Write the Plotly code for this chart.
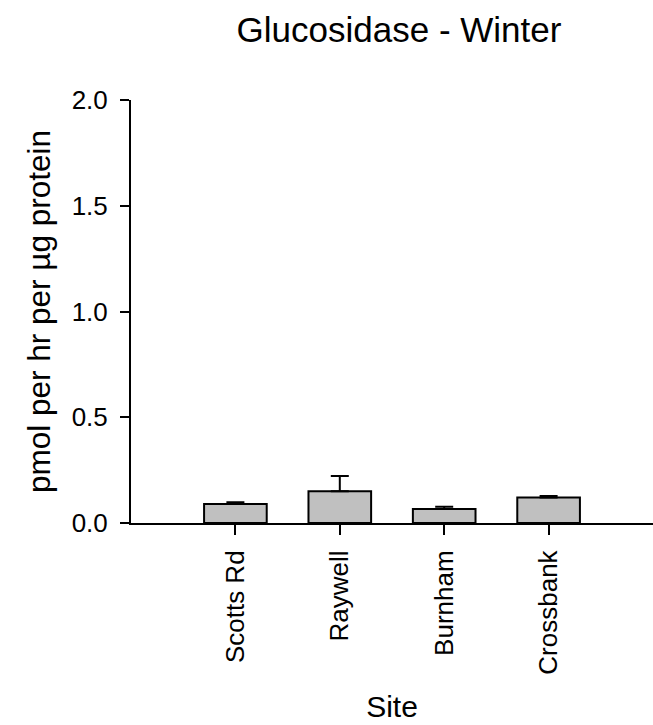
import plotly.graph_objects as go

sites = ["Scotts Rd", "Raywell", "Burnham", "Crossbank"]
means = [0.090, 0.150, 0.066, 0.120]
err_plus = [0.008, 0.072, 0.011, 0.008]
y_ticks = [0.0, 0.5, 1.0, 1.5, 2.0]
y_tick_labels = ["0.0", "0.5", "1.0", "1.5", "2.0"]

FONT = "Liberation Sans, Arial, sans-serif"

fig = go.Figure()
fig.add_trace(go.Bar(
    x=sites,
    y=means,
    width=0.6,
    marker=dict(color="#c0c0c0", line=dict(color="black", width=2)),
    error_y=dict(type="data", array=err_plus, arrayminus=[0] * len(err_plus),
                 symmetric=False, color="black", thickness=2, width=9),
    showlegend=False,
))

fig.update_layout(
    width=653, height=725,
    margin=dict(l=131, r=0, t=100, b=202, autoexpand=False),
    paper_bgcolor="white", plot_bgcolor="white",
    font=dict(family=FONT, color="black"),
    title=dict(text="Glucosidase - Winter", x=399 / 653, xanchor="center",
               y=1 - 30 / 725, yanchor="middle", xref="container", yref="container",
               font=dict(size=35, family=FONT, color="black")),
    xaxis=dict(
        range=[-1.0, 4.0],
        showline=True, linecolor="black", linewidth=2,
        ticks="outside", ticklen=10, tickwidth=2, tickcolor="black",
        tickangle=-90, tickfont=dict(size=26),
        ticklabelstandoff=5,
        showgrid=False, zeroline=False,
        title=dict(text="Site", font=dict(size=30), standoff=22),
    ),
    yaxis=dict(
        range=[0, 2.0],
        tickvals=y_ticks, ticktext=y_tick_labels,
        showline=True, linecolor="black", linewidth=2,
        ticks="outside", ticklen=9, tickwidth=2, tickcolor="black",
        tickfont=dict(size=26),
        ticklabelstandoff=7,
        showgrid=False, zeroline=False,
        title=dict(text="pmol per hr per µg protein", font=dict(size=31.5), standoff=12),
    ),
)

fig.write_html("out.html")
